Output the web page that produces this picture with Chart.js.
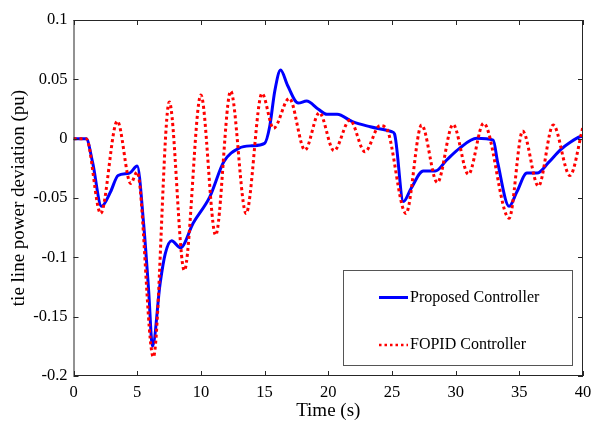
<!DOCTYPE html>
<html>
<head>
<meta charset="utf-8">
<script src="https://cdn.jsdelivr.net/npm/chart.js@4"></script>
<style>
  html, body { margin: 0; padding: 0; background: #fff; }
  #wrap { width: 595px; height: 422px; }
</style>
</head>
<body>
<div id="wrap"><canvas id="myChart" width="595" height="422"></canvas></div>
<script>
// Proposed controller (blue, solid)
const proposedT = [0, 1.0, 1.5, 2.2, 2.9, 3.5, 4.4, 5.0, 5.5, 5.9, 6.2, 6.8, 7.2, 7.7, 8.4, 9.4, 10.7, 11.8, 13.0, 14.0, 15.0, 15.4, 15.8, 16.26, 16.8, 17.65, 18.3, 19.2, 19.9, 20.7, 21.9, 23.3, 25.0, 25.2, 25.9, 26.5, 27.46, 28.4, 29.3, 30.3, 31.65, 32.95, 33.3, 34.2, 34.8, 35.6, 36.4, 37.3, 38.2, 39.0, 39.75, 40];
const proposedV = [0, 0, -0.02, -0.057, -0.045, -0.031, -0.029, -0.023, -0.071, -0.128, -0.175, -0.122, -0.097, -0.086, -0.092, -0.071, -0.049, -0.0195, -0.008, -0.006, -0.004, 0.01, 0.04, 0.0578, 0.045, 0.030, 0.0317, 0.025, 0.0205, 0.0205, 0.0143, 0.010, 0.0058, 0.004, -0.053, -0.042, -0.0273, -0.0273, -0.018, -0.0082, 0.0003, -0.0012, -0.02, -0.057, -0.045, -0.029, -0.029, -0.020, -0.0096, -0.003, 0.0016, 0.002];

// FOPID controller (red, dotted)
const fopidT = [0, 1.0, 2.13, 3.44, 4.49, 5.0, 6.27, 7.52, 8.7, 10.0, 11.16, 12.34, 13.55, 14.8, 15.7, 16.94, 18.17, 19.3, 20.45, 21.7, 22.88, 24.06, 24.6, 26.1, 27.33, 28.56, 29.8, 31.0, 32.2, 34.2, 35.26, 36.5, 37.66, 38.97, 40];
const fopidV = [0, 0, -0.063, 0.0148, -0.0377, -0.028, -0.184, 0.031, -0.111, 0.0368, -0.0813, 0.040, -0.063, 0.038, 0.0087, 0.034, -0.0096, 0.0219, -0.0102, 0.0157, -0.011, 0.011, 0.008, -0.063, 0.0115, -0.037, 0.012, -0.030, 0.013, -0.067, 0.0064, -0.040, 0.0115, -0.031, 0.010];

const xTicks = [0, 5, 10, 15, 20, 25, 30, 35, 40];
const yTicks = [0.1, 0.05, 0, -0.05, -0.1, -0.15, -0.2];

const serif = 'Liberation Serif, Times New Roman, serif';

function toPoints(ts, vs) {
    return ts.map((t, i) => ({ x: t, y: vs[i] }));
}

// frame, inward ticks and legend box
const framePlugin = {
    id: 'frame',
    afterDraw(chart) {
        const ctx = chart.ctx;
        const a = chart.chartArea;
        const xs = chart.scales.x;
        const ys = chart.scales.y;
        ctx.save();
        ctx.strokeStyle = '#262626';
        ctx.lineWidth = 1;
        ctx.strokeRect(a.left + 0.5, a.top + 0.5, a.right - a.left - 1, a.bottom - a.top - 1);
        ctx.beginPath();
        xTicks.forEach(v => {
            const px = Math.round(xs.getPixelForValue(v)) + 0.5;
            ctx.moveTo(px, a.bottom); ctx.lineTo(px, a.bottom - 5);
            ctx.moveTo(px, a.top); ctx.lineTo(px, a.top + 5);
        });
        yTicks.forEach(v => {
            const py = Math.round(ys.getPixelForValue(v)) + 0.5;
            ctx.moveTo(a.left, py); ctx.lineTo(a.left + 5, py);
            ctx.moveTo(a.right, py); ctx.lineTo(a.right - 5, py);
        });
        ctx.stroke();

        // legend
        const bx = 343, by = 270, bw = 229, bh = 95;
        ctx.fillStyle = '#fff';
        ctx.fillRect(bx, by, bw, bh);
        ctx.strokeStyle = '#555';
        ctx.strokeRect(bx + 0.5, by + 0.5, bw, bh);
        ctx.font = '16px ' + serif;
        ctx.textBaseline = 'middle';
        chart.data.datasets.forEach((ds, i) => {
            const y = by + 27.5 + i * 47.5;
            ctx.strokeStyle = ds.borderColor;
            ctx.lineWidth = ds.borderDash ? 2.5 : 3;
            ctx.setLineDash(ds.borderDash ? [2.5, 3] : []);
            ctx.beginPath();
            ctx.moveTo(bx + 36, y); ctx.lineTo(bx + 65, y);
            ctx.stroke();
            ctx.setLineDash([]);
            ctx.fillStyle = '#000';
            ctx.fillText(ds.label, bx + 67, y);
        });
        ctx.restore();
    }
};

const data = {
    datasets: [{
        label: 'Proposed Controller',
        data: toPoints(proposedT, proposedV),
        borderColor: '#0000ff',
        borderWidth: 3,
        pointRadius: 0,
        cubicInterpolationMode: 'monotone',
        order: 2
    }, {
        label: 'FOPID Controller',
        data: toPoints(fopidT, fopidV),
        borderColor: '#ff0000',
        borderWidth: 3,
        borderDash: [3, 3],
        pointRadius: 0,
        cubicInterpolationMode: 'monotone',
        order: 1
    }]
};

const config = {
    type: 'line',
    data: data,
    options: {
        responsive: false,
        animation: false,
        layout: { padding: { top: 20, right: 12, left: 0, bottom: 0 } },
        plugins: { legend: { display: false }, tooltip: { enabled: false } },
        scales: {
            x: {
                type: 'linear',
                min: 0, max: 40,
                afterFit: s => { s.height = 46; s.paddingRight = 0; s.paddingLeft = 0; },
                afterBuildTicks: s => { s.ticks = xTicks.map(v => ({ value: v })); },
                grid: { display: false, drawTicks: false, tickLength: 0 },
                border: { display: false },
                ticks: { color: '#000', font: { family: serif, size: 16.5 }, padding: 7, maxRotation: 0 },
                title: { display: true, text: 'Time (s)', color: '#000', font: { family: serif, size: 19 }, padding: { top: 0, bottom: 0 } }
            },
            y: {
                min: -0.2, max: 0.1,
                afterFit: s => { s.width = 73.5; s.paddingTop = 0; s.paddingBottom = 0; },
                afterBuildTicks: s => { s.ticks = yTicks.map(v => ({ value: v })); },
                grid: { display: false, drawTicks: false, tickLength: 0 },
                border: { display: false },
                ticks: {
                    color: '#000', font: { family: serif, size: 16.5 }, padding: 6,
                    callback: v => String(Math.round(v * 100) / 100)
                },
                title: { display: true, text: 'tie line power deviation (pu)', color: '#000', font: { family: serif, size: 19 }, padding: { top: 8, bottom: 0 } }
            }
        }
    },
    plugins: [framePlugin]
};

const myChart = new Chart(document.getElementById('myChart'), config);
</script>
</body>
</html>
